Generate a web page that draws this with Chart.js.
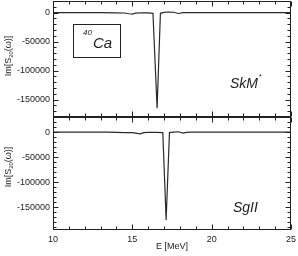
<!DOCTYPE html>
<html><head><meta charset="utf-8">
<script src="https://cdn.jsdelivr.net/npm/chart.js@4"></script>
<style>
html,body{margin:0;padding:0;background:#fff;}
#wrap{position:relative;width:298px;height:256px;overflow:hidden;font-family:"Liberation Sans",Arial,sans-serif;color:#222;}
canvas{position:absolute;left:0;}
.lbl{position:absolute;white-space:nowrap;line-height:1;}
.rot{transform:translate(-50%,-50%) rotate(-90deg);font-size:9px;}
.it{font-style:italic;}
sub{font-size:6px;vertical-align:-2px;line-height:0;}
</style></head><body>
<div id="wrap">
<canvas id="c1" width="298" height="119" style="top:0;width:298px;height:119px"></canvas>
<canvas id="c2" width="298" height="144" style="top:112px;width:298px;height:144px"></canvas>
<div class="lbl rot" style="left:8px;top:56px">Im[S<sub>20</sub>(ω)]</div>
<div class="lbl rot" style="left:8px;top:167px">Im[S<sub>20</sub>(ω)]</div>
<div class="lbl" style="left:156px;top:242px;font-size:9px">E [MeV]</div>
<div class="lbl" style="left:73px;top:24px;width:46px;height:32px;border:1px solid #222"></div>
<div class="lbl it" style="left:83px;top:29px;font-size:8px">40</div>
<div class="lbl it" style="left:93px;top:35px;font-size:15px">Ca</div>
<div class="lbl it" style="left:230px;top:76px;font-size:14px">SkM</div>
<div class="lbl" style="left:259px;top:73px;font-size:7px">*</div>
<div class="lbl it" style="left:233px;top:200px;font-size:14px">SgII</div>
</div>
<script>
// Data
const energySkM = [10, 11, 12, 13, 14, 14.5, 14.8, 15.0, 15.2, 15.6, 16.0, 16.3, 16.56, 16.77, 17.0, 17.3, 17.6, 17.9, 18.2, 19, 20, 22, 25];
const imSkM     = [0, 0, 0, -200, -400, -700, -2000, -2500, -800, -300, -500, -1200, -165000, -1200, 500, 1000, 600, -1500, 0, 0, 0, 0, 0];
const energySgII = [10, 12, 13, 13.5, 14, 14.5, 15, 15.3, 15.5, 15.7, 16, 16.5, 16.92, 17.13, 17.34, 17.6, 17.9, 18.2, 18.4, 18.7, 19, 20, 25];
const imSgII     = [0, 0, 0, -300, -800, -1000, -1200, -2500, -3500, -1000, -500, -500, -1000, -175000, -1000, 0, 600, -2000, -800, 0, 0, 0, 0];
const xTickLabels = [10, 15, 20, 25];
const yTickLabels = [0, -50000, -100000, -150000];
const xMinorStep = 1, yMinorStep = 10000;

function pts(xs, ys){ return xs.map((x,i)=>({x:x, y:ys[i]})); }

const framePlugin = {
  id:'frame',
  afterDraw(chart){
    const ctx = chart.ctx, a = chart.chartArea;
    const xs = chart.scales.x, ys = chart.scales.y;
    ctx.save();
    ctx.strokeStyle = '#222'; ctx.lineWidth = 1;
    const L = Math.round(a.left)+0.5, R = Math.round(a.right)-0.5, T = Math.round(a.top)+0.5, B = Math.round(a.bottom)-0.5;
    ctx.strokeRect(L, T, R-L, B-T);
    ctx.beginPath();
    for (let v = xs.min; v <= xs.max + 1e-9; v += xMinorStep) {
      const p = Math.round(xs.getPixelForValue(v))+0.5;
      const len = (Math.abs(v % 5) < 1e-9) ? 5 : 3;
      ctx.moveTo(p, T); ctx.lineTo(p, T+len);
      ctx.moveTo(p, B); ctx.lineTo(p, B-len);
    }
    const start = Math.ceil(ys.min / yMinorStep) * yMinorStep;
    for (let v = start; v <= ys.max + 1e-9; v += yMinorStep) {
      const p = Math.round(ys.getPixelForValue(v))+0.5;
      const len = (Math.abs(v % 50000) < 1e-9) ? 5 : 3;
      ctx.moveTo(L, p); ctx.lineTo(L+len, p);
      ctx.moveTo(R, p); ctx.lineTo(R-len, p);
    }
    ctx.stroke();
    ctx.restore();
  }
};

function makeChart(id, xs, ys, yMin, yMax, showX, pad){
  return new Chart(document.getElementById(id), {
    type:'line',
    data:{datasets:[{data:pts(xs, ys), borderColor:'#2a2a2a', borderWidth:1.2, pointRadius:0, tension:0, fill:false}]},
    options:{
      responsive:false, animation:false, events:[],
      layout:{padding:pad},
      plugins:{legend:{display:false}, tooltip:{enabled:false}},
      scales:{
        x:{type:'linear', min:10, max:25, display:showX,
           grid:{display:false, drawTicks:false}, border:{display:false},
           afterBuildTicks:s=>{ s.ticks = xTickLabels.map(v=>({value:v})); },
           afterFit:s=>{ s.height = showX ? 26 : 0; s.paddingLeft = 0; s.paddingRight = 0; },
           ticks:{color:'#222', font:{family:'Liberation Sans', size:9}, padding:4, maxRotation:0}},
        y:{type:'linear', min:yMin, max:yMax,
           grid:{display:false, drawTicks:false}, border:{display:false},
           afterBuildTicks:s=>{ s.ticks = yTickLabels.map(v=>({value:v})); },
           afterFit:s=>{ s.width = 53; s.paddingTop = 0; s.paddingBottom = 0; },
           ticks:{color:'#222', font:{family:'Liberation Sans', size:9}, padding:3, callback:v=>String(v)}}
      }
    },
    plugins:[framePlugin]
  });
}

makeChart('c1', energySkM, imSkM, -180000, 20000, false, {left:0, right:7, top:1, bottom:2});
makeChart('c2', energySgII, imSgII, -195000, 30000, true, {left:0, right:7, top:5, bottom:0});
</script>
</body></html>
